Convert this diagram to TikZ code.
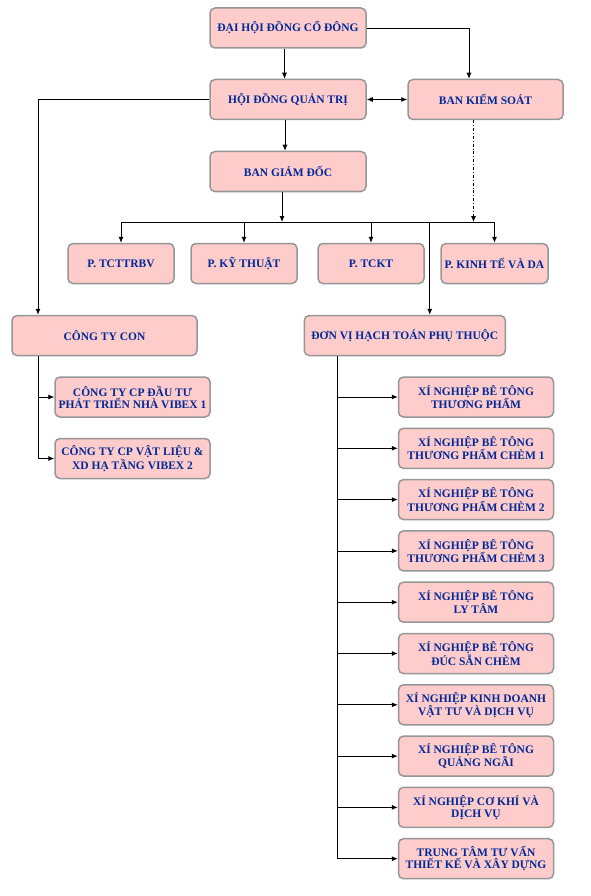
\documentclass[tikz,border=0pt]{standalone}
\usepackage{fontspec}
\setmainfont{Liberation Serif}
\usepackage{tikz}
\usetikzlibrary{arrows,arrows.meta}
\definecolor{boxpink}{RGB}{255,204,204}
\definecolor{boxline}{RGB}{150,150,150}
\definecolor{boxtext}{RGB}{0,40,150}

\begin{document}
\begin{tikzpicture}[x=1pt,y=-1pt,
  ->,>={Latex[length=6pt,width=5pt]},line width=0.8pt,
  unit/.style={draw=boxline,line width=1.5pt,fill=boxpink,rounded corners=5pt,text=boxtext,
    font=\fontsize{11.5}{12}\selectfont\bfseries,align=center,inner sep=0pt,minimum height=40pt},
  board/.style={unit,minimum width=156pt},
  dept/.style={unit,minimum width=106pt},
  plant/.style={unit,minimum width=155pt}]
  \useasboundingbox (0,0) rectangle (590,896);

  % top of the company
  \node [board] (dhdcd) at (288,28) {ĐẠI HỘI ĐỒNG CỔ ĐÔNG};
  \node [board] (hdqt) at (288,99.5) {HỘI ĐỒNG QUẢN TRỊ};
  \node [board,minimum width=155pt] (bks) at (485.5,99.5) {BAN KIỂM SOÁT};
  \node [board] (bgd) at (288,171.5) {BAN GIÁM ĐỐC};

  % departments
  \node [dept] (tcttrbv) at (121,263.5) {P. TCTTRBV};
  \node [dept] (kythuat) at (244,263.5) {P. KỸ THUẬT};
  \node [dept] (tckt) at (371,263.5) {P. TCKT};
  \node [dept,minimum width=107pt] (kinhte) at (494.5,263.5) {P. KINH TẾ VÀ DA};

  % branches
  \node [unit,minimum width=185pt] (ctcon) at (104.5,335.5) {CÔNG TY CON};
  \node [unit,minimum width=201pt] (donvi) at (404.75,335.5) {ĐƠN VỊ HẠCH TOÁN PHỤ THUỘC};
  \node [plant] (con1) at (132.5,397) {CÔNG TY CP ĐẦU TƯ\\PHÁT TRIỂN NHÀ VIBEX 1};
  \node [plant] (con2) at (132.5,458.5) {CÔNG TY CP VẬT LIỆU \&\\XD HẠ TẦNG VIBEX 2};

  % plants
  \foreach \txt [count=\i from 0] in {
      {XÍ NGHIỆP BÊ TÔNG\\THƯƠNG PHẨM},
      {XÍ NGHIỆP BÊ TÔNG\\THƯƠNG PHẨM CHÈM 1},
      {XÍ NGHIỆP BÊ TÔNG\\THƯƠNG PHẨM CHÈM 2},
      {XÍ NGHIỆP BÊ TÔNG\\THƯƠNG PHẨM CHÈM 3},
      {XÍ NGHIỆP BÊ TÔNG\\LY TÂM},
      {XÍ NGHIỆP BÊ TÔNG\\ĐÚC SẴN CHÈM},
      {XÍ NGHIỆP KINH DOANH\\VẬT TƯ VÀ DỊCH VỤ},
      {XÍ NGHIỆP BÊ TÔNG\\QUẢNG NGÃI},
      {XÍ NGHIỆP CƠ KHÍ VÀ\\DỊCH VỤ},
      {TRUNG TÂM TƯ VẤN\\THIẾT KẾ VÀ XÂY DỰNG}}
    \node [plant] (xn\i) at (476,397+51.3*\i) {\txt};

  \coordinate (bus) at (282,222);
  \coordinate (ltrunk) at ([xshift=-66.5pt]ctcon.south);
  \coordinate (rtrunk) at ([xshift=-67.75pt]donvi.south);

  % connectors
  \draw ([xshift=-3.5pt]dhdcd.south) -- ([xshift=-3.5pt]hdqt.north);
  \draw (dhdcd.east) -| ([xshift=-16.5pt]bks.north);
  \draw [<->] (hdqt) -- (bks);
  \draw (hdqt.west) -| ([xshift=-66.5pt]ctcon.north);
  \draw ([xshift=-3pt]hdqt.south) -- ([xshift=-3pt]bgd.north);
  \draw (bgd.south -| bus) -- (bus);
  \draw [-] (tcttrbv.north |- bus) -- (kinhte.north |- bus);
  \foreach \d in {tcttrbv,kythuat,tckt,kinhte}
    \draw (\d.north |- bus) -- (\d.north);
  \draw [dash dot] ([xshift=-12pt]bks.south) -- ([xshift=-12pt]bks.south |- bus);
  \draw ([xshift=25pt]donvi.north |- bus) -- ([xshift=25pt]donvi.north);

  \draw (ltrunk) |- (con2.west);
  \draw (con1.west -| ltrunk) -- (con1.west);
  \draw (rtrunk) |- (xn9.west);
  \foreach \i in {0,...,8}
    \draw (xn\i.west -| rtrunk) -- (xn\i.west);
\end{tikzpicture}
\end{document}
